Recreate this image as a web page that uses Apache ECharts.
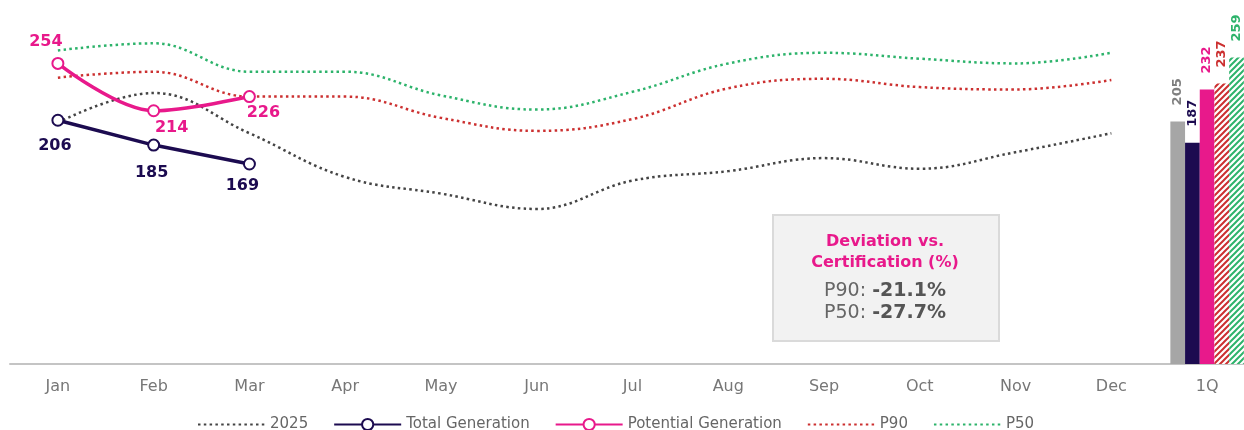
<!DOCTYPE html>
<html>
<head>
<meta charset="utf-8">
<script src="https://cdn.jsdelivr.net/npm/echarts@6/dist/echarts.min.js"></script>
<style>
html,body{margin:0;padding:0;background:#fff;overflow:hidden;width:1244px;height:430px;}
#chart{width:1255px;height:430px;}
</style>
</head>
<body>
<div id="chart"></div>
<script>
// ---- data ----
const categories = ['Jan','Feb','Mar','Apr','May','Jun','Jul','Aug','Sep','Oct','Nov','Dec','1Q'];
const year2025 = [204, 229, 195, 158, 144, 131, 155, 163, 174, 165, 179, 195];
const totalGeneration = [206, 185, 169];
const potentialGeneration = [254, 214, 226];
const p90 = [242, 247, 226, 226, 208, 197, 207, 233, 241, 234, 232, 240];
const p50 = [265, 271, 247, 247, 227, 215, 230, 254, 263, 258, 254, 263];
const q1Names = ['2025 1Q', 'Total Generation 1Q', 'Potential Generation 1Q', 'P90 1Q', 'P50 1Q'];
const q1Values = [205, 187, 232, 237, 259];
const deviationP90 = '-21.1%';
const deviationP50 = '-27.7%';

// ---- styles ----
const FONT = 'DejaVu Sans';
const NAVY = '#1c0b50';
const PINK = '#e8198b';
const RED = '#cc3030';
const GREEN = '#2db36b';
const GREY_LINE = '#444444';
const totalOffsets = [[-3, 26], [-2, 28], [-7, 22]];
const potentialOffsets = [[-12, -22], [18, 17], [14, 16]];

function hatch(color) {
  const c = document.createElement('canvas');
  c.width = 6; c.height = 6;
  const g = c.getContext('2d');
  g.fillStyle = '#ffffff';
  g.fillRect(0, 0, 6, 6);
  g.strokeStyle = color;
  g.lineWidth = 2;
  g.beginPath();
  g.moveTo(-1, 7); g.lineTo(7, -1);
  g.moveTo(-4, 4); g.lineTo(4, -4);
  g.moveTo(2, 10); g.lineTo(10, 2);
  g.stroke();
  return c;
}

const q1Colors = ['#a6a6a6', NAVY, PINK, {image: hatch(RED), repeat: 'repeat'}, {image: hatch(GREEN), repeat: 'repeat'}];
const q1LabelColors = ['#7f7f7f', NAVY, PINK, RED, GREEN];

function dotted(name, data, color) {
  return {
    name: name, type: 'line', data: data, smooth: 0.4,
    symbol: 'none',
    lineStyle: {color: color, width: 2.5, type: [2.5, 3.3], cap: 'butt'},
    itemStyle: {color: color},
    z: 2
  };
}

function solidLine(name, data, color, offsets, smooth) {
  return {
    name: name, type: 'line', smooth: smooth,
    data: data.map((v, i) => ({value: v, label: {offset: offsets[i]}})),
    symbol: 'emptyCircle', symbolSize: 11,
    lineStyle: {color: color, width: 3.5},
    itemStyle: {color: color, borderColor: color, borderWidth: 3.5},
    label: {show: true, position: 'inside', color: color, fontFamily: FONT, fontWeight: 'bold', fontSize: 16},
    z: 5
  };
}

const barSeries = q1Names.map((n, i) => ({
  name: n, type: 'bar', barWidth: 14.7, barGap: '0%',
  data: categories.map((c, j) => j === categories.length - 1 ? q1Values[i] : '-'),
  itemStyle: {color: q1Colors[i]},
  label: {show: true, position: 'top', rotate: 90, align: 'left', verticalAlign: 'middle', distance: 16,
          color: q1LabelColors[i], fontFamily: FONT, fontWeight: 'bold', fontSize: 13},
  z: 3
}));

const hiddenSymbol = {opacity: 0};

const chart = echarts.init(document.getElementById('chart'), null, {renderer: 'canvas'});
chart.setOption({
  animation: false,
  backgroundColor: '#ffffff',
  grid: {left: 10, right: 0, top: 9, bottom: 66, containLabel: false},
  xAxis: {
    type: 'category', data: categories, boundaryGap: true,
    axisLine: {show: true, lineStyle: {color: '#c4c4c4', width: 2}},
    axisTick: {show: false},
    axisLabel: {color: '#777777', fontFamily: FONT, fontSize: 16, margin: 15}
  },
  yAxis: {type: 'value', min: 0, max: 300, show: false, splitLine: {show: false}},
  legend: {
    data: [
      {name: '2025', itemStyle: hiddenSymbol},
      {name: 'Total Generation'},
      {name: 'Potential Generation'},
      {name: 'P90', itemStyle: hiddenSymbol},
      {name: 'P50', itemStyle: hiddenSymbol}
    ],
    left: 192, top: 412, itemWidth: 67, itemHeight: 14, itemGap: 25,
    textStyle: {color: '#666666', fontFamily: FONT, fontSize: 15}
  },
  series: [
    dotted('2025', year2025, GREY_LINE),
    dotted('P90', p90, RED),
    dotted('P50', p50, GREEN),
    ...barSeries,
    solidLine('Total Generation', totalGeneration, NAVY, totalOffsets, false),
    solidLine('Potential Generation', potentialGeneration, PINK, potentialOffsets, 0.35)
  ],
  graphic: [
    {type: 'rect', left: 772, top: 214, shape: {width: 226, height: 126},
     style: {fill: '#f2f2f2', stroke: '#dadada', lineWidth: 2}, z: 10},
    {type: 'text', x: 885, y: 242, z: 11,
     style: {text: 'Deviation vs.', fill: PINK, font: 'bold 16px "DejaVu Sans"', align: 'center', verticalAlign: 'middle'}},
    {type: 'text', x: 885, y: 263, z: 11,
     style: {text: 'Certification (%)', fill: PINK, font: 'bold 16px "DejaVu Sans"', align: 'center', verticalAlign: 'middle'}},
    {type: 'text', x: 885, y: 291, z: 11,
     style: {text: '{a|P90: }{b|' + deviationP90 + '}', align: 'center', verticalAlign: 'middle',
             rich: {a: {fill: '#666666', color: '#666666', fontSize: 19, fontFamily: FONT},
                    b: {fill: '#555555', color: '#555555', fontSize: 19, fontFamily: FONT, fontWeight: 'bold'}}}},
    {type: 'text', x: 885, y: 313, z: 11,
     style: {text: '{a|P50: }{b|' + deviationP50 + '}', align: 'center', verticalAlign: 'middle',
             rich: {a: {fill: '#666666', color: '#666666', fontSize: 19, fontFamily: FONT},
                    b: {fill: '#555555', color: '#555555', fontSize: 19, fontFamily: FONT, fontWeight: 'bold'}}}}
  ]
});
</script>
</body>
</html>
